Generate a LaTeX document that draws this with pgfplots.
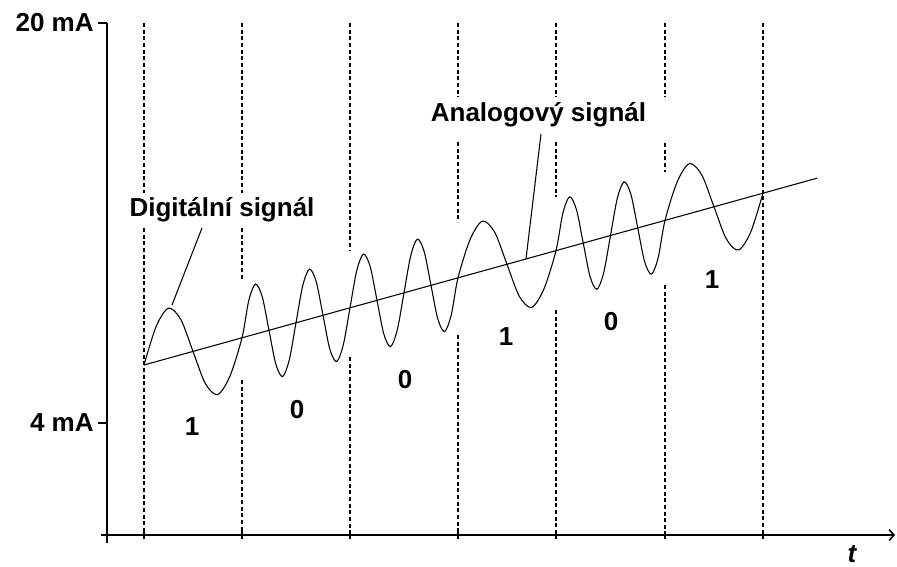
\documentclass[border=0pt]{standalone}
\usepackage{fontspec}
\setmainfont{Liberation Sans}
\usepackage{pgfplots}
\pgfplotsset{compat=1.18}
\usetikzlibrary{arrows.meta}

\newcommand{\lbl}{\fontsize{19.5}{22}\selectfont\bfseries}

\begin{document}
\begin{tikzpicture}
\begin{axis}[
    x=0.75pt, y=0.75pt,
    xmin=107, xmax=895, ymin=32, ymax=544,
    axis x line=bottom, axis y line=left,
    x axis line style={-{Straight Barb[length=3.5pt,width=8pt]}, shorten <=-4.5pt, line width=1.2pt},
    y axis line style={-, shorten <=-6pt, line width=1.2pt},
    xtick={144,242,350,458,556,665,763}, xticklabels={},
    ytick={144,544}, yticklabels={4 mA,20 mA},
    xtick align=center, ytick align=outside,
    major tick length=6.5pt,
    tick style={black, line width=1pt},
    yticklabel style={font=\lbl},
    unbounded coords=jump,
    clip=false,
  ]
  \coordinate (bl) at (axis cs:0,0);
  \coordinate (tr) at (axis cs:897,567);

  % bit boundaries (broken where the wave and the labels sit)
  \addplot[black, line width=0.9pt, dash pattern=on 3pt off 2pt] coordinates {
    (144,544) (144,374) (144,nan) (144,339) (144,32) (144,nan)
    (242,544) (242,374) (242,nan) (242,339) (242,287) (242,nan) (242,187) (242,32) (242,nan)
    (350,544) (350,317) (350,nan) (350,210) (350,32) (350,nan)
    (458,544) (458,470) (458,nan) (458,425) (458,345) (458,nan) (458,232) (458,32) (458,nan)
    (556,544) (556,470) (556,nan) (556,425) (556,370) (556,nan) (556,257) (556,32) (556,nan)
    (665,544) (665,470) (665,nan) (665,424) (665,395) (665,nan) (665,282) (665,32) (665,nan)
    (763,544) (763,32)
  };

  % analog signal
  \addplot[black, line width=0.8pt] coordinates {(144,202) (817,388.8)};

  % FSK digital signal
  \addplot[black, line width=0.8pt, smooth] coordinates {
    (144,202) (156.25,240.8) (168.5,258.8) (180.75,247.6) (193,215.6)
    (205.25,183.6) (217.5,172.4) (229.75,190.4) (242,229.2)
    (248.75,266.4) (255.5,282.9) (262.25,270.2) (269,236.7) (275.75,203.2)
    (282.5,190.4) (289.25,207.0) (296,244.2) (302.75,281.4) (309.5,297.9)
    (316.25,285.2) (323,251.7) (329.75,218.2) (336.5,205.4) (343.25,221.9) (350,259.2)
    (356.75,296.4) (363.5,312.9) (370.25,300.2) (377,266.7) (383.75,233.2)
    (390.5,220.4) (397.25,236.9) (404,274.2) (410.75,311.4) (417.5,327.9)
    (424.25,315.1) (431,281.6) (437.75,248.2) (444.5,235.4) (451.25,251.9) (458,289.1)
    (470.25,327.9) (482.5,345.9) (494.75,334.7) (507,302.7) (519.25,270.8)
    (531.5,259.5) (543.75,277.6) (556,316.3)
    (562.81,353.6) (569.63,370.1) (576.44,357.4) (583.25,323.9) (590.06,290.4)
    (596.88,277.7) (603.69,294.2) (610.5,331.5) (617.31,368.7) (624.13,385.2)
    (630.94,372.5) (637.75,339.0) (644.56,305.6) (651.38,292.8) (658.19,309.3) (665,346.6)
    (677.25,385.3) (689.5,403.4) (701.75,392.1) (714,360.2) (726.25,328.2)
    (738.5,317.0) (750.75,335.0) (763,373.8)
  };

  % pointers
  \draw[black, line width=0.8pt] (axis cs:202,339) -- (axis cs:172,262);
  \draw[black, line width=0.8pt] (axis cs:541,433) -- (axis cs:526,308);

  \node[font=\lbl, fill=white, inner sep=2pt, anchor=base] at (axis cs:222,350) {Digitální signál};
  \node[font=\lbl, fill=white, inner sep=2pt, anchor=base] at (axis cs:538.5,445) {Analogový signál};

  \node[font=\lbl] at (axis cs:192,140) {1};
  \node[font=\lbl] at (axis cs:297,157) {0};
  \node[font=\lbl] at (axis cs:405,187) {0};
  \node[font=\lbl] at (axis cs:506,230) {1};
  \node[font=\lbl] at (axis cs:611,245) {0};
  \node[font=\lbl] at (axis cs:712,287) {1};

  \node[font=\lbl\itshape, anchor=south, inner sep=0pt] at (axis cs:852,4) {t};
\end{axis}
\pgfresetboundingbox
\path (bl) rectangle (tr);
\end{tikzpicture}
\end{document}
